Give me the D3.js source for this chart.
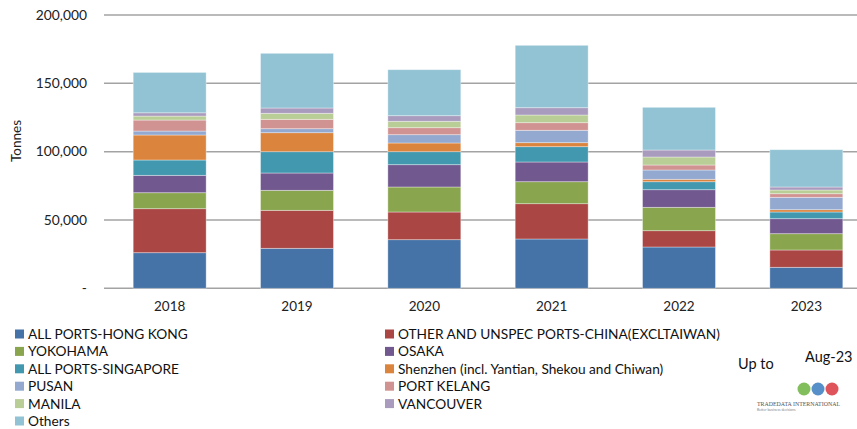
<!DOCTYPE html>
<html><head><meta charset="utf-8">
<script src="https://cdn.jsdelivr.net/npm/d3@7"></script>
<style>html,body{margin:0;padding:0;background:#fff;}svg{display:block;font-family:Lato,"Open Sans",sans-serif;}</style>
</head><body>
<svg id="chart" width="857" height="429"></svg>
<script>
const years = ["2018","2019","2020","2021","2022","2023"];
const seriesNames = ["ALL PORTS-HONG KONG","OTHER AND UNSPEC PORTS-CHINA(EXCLTAIWAN)","YOKOHAMA","OSAKA","ALL PORTS-SINGAPORE","Shenzhen (incl. Yantian, Shekou and Chiwan)","PUSAN","PORT KELANG","MANILA","VANCOUVER","Others"];
const hongKong   = [26050,29270,35570,36080,30220,15370];
const china      = [32200,27800,20270,25830,11930,12660];
const yokohama   = [11700,14640,18300,16100,17120,11930];
const osaka      = [12730,12660,16320,14420,12880,10980];
const singapore  = [11200,15590, 9510,11200, 5850, 4900];
const shenzhen   = [18300,13900, 6370, 2930, 1760, 1680];
const pusan      = [ 2900, 2930, 6070, 9070, 6810, 9070];
const portKelang = [ 8050, 6880, 5120, 5560, 3660, 2630];
const manila     = [ 2900, 4390, 4680, 5630, 5850, 2710];
const vancouver  = [ 2400, 3880, 4100, 5340, 5120, 2200];
const others     = [29560,40030,33660,45660,31250,27300];
const yTicks = [0,50000,100000,150000,200000];
const colors = ["#4572A7","#AA4643","#89A54E","#71588F","#4198AF","#DB843D","#93A9CF","#D19392","#B9CD96","#A99BBD","#92C3D4"];

const seriesValues = [hongKong,china,yokohama,osaka,singapore,shenzhen,pusan,portKelang,manila,vancouver,others];
const table = years.map((y,i)=>{const o={year:y}; seriesNames.forEach((n,k)=>o[n]=seriesValues[k][i]); return o;});
const stacked = d3.stack().keys(seriesNames)(table);

const svg = d3.select("#chart");
const x = d3.scaleBand().domain(years).range([106,870]).paddingInner(0.427).paddingOuter(0.2135);
const y = d3.scaleLinear().domain([0,200000]).range([288.3,15]);

// gridlines
svg.append("g").selectAll("line").data(yTicks).join("line")
  .attr("x1",104).attr("x2",857).attr("y1",d=>y(d)).attr("y2",d=>y(d))
  .attr("stroke","#a3a3a3").attr("stroke-width",1.5);

// y labels
svg.append("g").selectAll("text").data(yTicks).join("text")
  .attr("x",87).attr("y",d=>y(d)).attr("dy","0.35em").attr("text-anchor","end")
  .attr("font-size",13.8).attr("fill","#222")
  .text(d=>d===0?"-":d3.format(",")(d));

svg.append("text").attr("transform","translate(21,141) rotate(-90)")
  .attr("text-anchor","middle").attr("font-size",13.5).attr("fill","#222").text("Tonnes");

// bars
svg.append("g").selectAll("g").data(stacked).join("g")
  .attr("fill",(d,i)=>colors[i])
  .selectAll("rect").data(d=>d).join("rect")
  .attr("x",d=>x(d.data.year)).attr("width",x.bandwidth())
  .attr("y",d=>y(d[1])).attr("height",d=>y(d[0])-y(d[1]))
  .attr("stroke","rgba(255,255,255,0.45)").attr("stroke-width",0.8);

// x labels
svg.append("g").selectAll("text").data(years).join("text")
  .attr("x",d=>x(d)+x.bandwidth()/2).attr("y",311).attr("text-anchor","middle")
  .attr("font-size",13.5).attr("fill","#222").text(d=>d);

// legend
const leg = svg.append("g");
seriesNames.forEach((n,i)=>{
  const col = i%2, row = Math.floor(i/2);
  const lx = col===0?15:385, ly = 334 + row*17.4;
  leg.append("rect").attr("x",lx).attr("y",ly-4.5).attr("width",9).attr("height",9).attr("fill",colors[i]);
  leg.append("text").attr("x",lx+13).attr("y",ly).attr("dy","0.36em").attr("font-size",13.7).attr("fill","#111").text(n);
});

svg.append("text").attr("x",738).attr("y",369).attr("font-size",14.5).attr("fill","#111").text("Up to");
svg.append("text").attr("x",805).attr("y",362).attr("font-size",14.5).attr("fill","#111").text("Aug-23");

// logo
const logo = svg.append("g");
[["#6db33f",804],["#3a7cc0",818],["#d9363e",832]].forEach(([c,cx])=>{
  logo.append("circle").attr("cx",cx).attr("cy",389).attr("r",6.5).attr("fill",c).attr("opacity",0.85);
});
logo.append("text").attr("x",757).attr("y",406).attr("font-size",6.5).attr("font-family","Liberation Serif,serif")
  .attr("textLength",83).attr("lengthAdjust","spacingAndGlyphs").attr("fill","#555").text("TRADEDATA INTERNATIONAL");
logo.append("text").attr("x",757).attr("y",411).attr("font-size",3.5).attr("fill","#888").text("Better business decisions");
</script>
</body></html>
